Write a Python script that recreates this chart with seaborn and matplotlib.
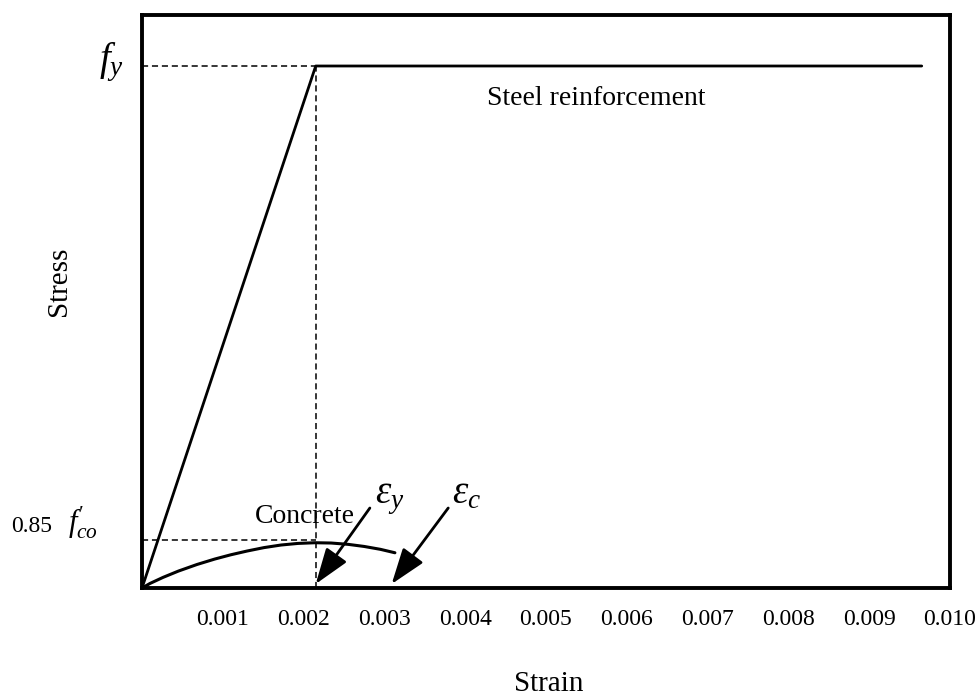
import matplotlib
matplotlib.use("Agg")
import matplotlib.pyplot as plt
import matplotlib.transforms as mtransforms
import seaborn as sns
import pandas as pd

# ---- data (normalised stress, strain) ----
steel_strain = [0.0, 0.00215, 0.00965]
steel_stress = [0.0, 0.911, 0.911]
concrete_strain = [0.0, 0.00010, 0.00026, 0.00045, 0.00068, 0.00090, 0.0011, 0.0013,
                   0.00151, 0.00172, 0.00193, 0.00214, 0.00234, 0.00255, 0.00275, 0.00295, 0.00313]
concrete_stress = [0.0, 0.0080, 0.0185, 0.0295, 0.0410, 0.0505, 0.0580, 0.0645,
                   0.0705, 0.0750, 0.0778, 0.0790, 0.0785, 0.0762, 0.0725, 0.0675, 0.0615]
fy_level = 0.911
fco_level = 0.0838
eps_y = 0.00215
eps_c = 0.00309
xticks = [0.001, 0.002, 0.003, 0.004, 0.005, 0.006, 0.007, 0.008, 0.009, 0.010]
xtick_labels = ["0.001", "0.002", "0.003", "0.004", "0.005", "0.006", "0.007", "0.008", "0.009", "0.010"]

sns.set_theme(style="white")
plt.rcParams["font.family"] = ["Liberation Serif", "DejaVu Serif"]
plt.rcParams["mathtext.fontset"] = "custom"
plt.rcParams["mathtext.rm"] = "Liberation Serif"
plt.rcParams["mathtext.it"] = "Liberation Serif:italic"
plt.rcParams["text.color"] = "black"
plt.rcParams["axes.labelcolor"] = "black"
plt.rcParams["xtick.color"] = "black"

fig = plt.figure(figsize=(9.78, 6.96), dpi=100)
ax = fig.add_axes([142/978, 1-588/696, (950-142)/978, (588-15)/696])

steel = pd.DataFrame({"strain": steel_strain, "stress": steel_stress})
conc = pd.DataFrame({"strain": concrete_strain, "stress": concrete_stress})
sns.lineplot(data=steel, x="strain", y="stress", sort=False, estimator=None,
             color="black", lw=2.0, ax=ax)
sns.lineplot(data=conc, x="strain", y="stress", sort=False, estimator=None,
             color="black", lw=2.2, ax=ax)

# dashed guide lines
dash = dict(color="black", lw=1.1, ls=(0, (4, 2.5)))
ax.plot([0, eps_y], [fy_level, fy_level], **dash)
ax.plot([eps_y, eps_y], [0, fy_level], **dash)
ax.plot([0, eps_y], [fco_level, fco_level], **dash)

ax.set_xlim(0, 0.010)
ax.set_ylim(0, 1.0)
ax.set_xticks(xticks)
ax.set_xticklabels(xtick_labels, fontsize=17)
ax.set_yticks([])
ax.tick_params(axis="x", direction="in", length=14, width=1.6, pad=15, color="black",
               labelcolor="black")
for s in ax.spines.values():
    s.set_visible(True)
    s.set_linewidth(2.8)
    s.set_color("black")

ax.set_xlabel("Strain", fontsize=21)
ax.xaxis.set_label_coords(0.503, -0.145)
ax.set_ylabel("Stress", fontsize=21)
ax.yaxis.set_label_coords(-0.087, 0.536)

trans = mtransforms.blended_transform_factory(ax.transAxes, ax.transData)
ax.text(-0.023, 0.918, r"$f_y$", fontsize=28, ha="right", va="center", transform=trans)
ax.text(-0.111, 0.098, "0.85", fontsize=17, ha="right", va="baseline", transform=trans)
ax.text(-0.055, 0.098, r"$f^{\prime}_{co}$", fontsize=22, ha="right", va="baseline", transform=trans)

ax.text(0.00427, 0.843, "Steel reinforcement", fontsize=20, ha="left", va="baseline")
ax.text(0.00140, 0.113, "Concrete", fontsize=20, ha="left", va="baseline")

arrow = dict(arrowstyle="-|>,head_length=1.0,head_width=0.35", color="black",
             lw=2.0, mutation_scale=22, shrinkA=0, shrinkB=0)
ax.annotate("", xy=(eps_y, 0.007), xytext=(0.00282, 0.1396), arrowprops=arrow)
ax.annotate("", xy=(eps_c, 0.007), xytext=(0.00379, 0.1396), arrowprops=arrow)
ax.text(0.00288, 0.148, r"$\varepsilon_y$", fontsize=28, ha="left", va="baseline")
ax.text(0.00384, 0.148, r"$\varepsilon_c$", fontsize=28, ha="left", va="baseline")

fig.savefig("out.png", dpi=100)
